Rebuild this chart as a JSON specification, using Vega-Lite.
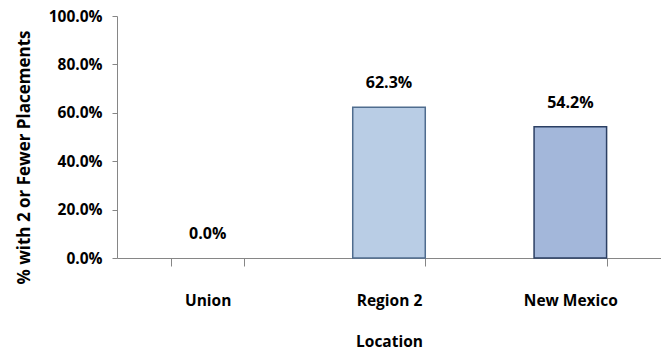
{
  "$schema": "https://vega.github.io/schema/vega-lite/v6.json",
  "width": 544,
  "height": 242,
  "autosize": {"type": "none"},
  "padding": {"left": 117, "top": 16, "right": 0, "bottom": 98},
  "background": "white",
  "config": {
    "view": {"stroke": null},
    "font": "Open Sans",
    "axis": {"grid": false, "labelFont": "Open Sans", "titleFont": "Open Sans", "labelFontWeight": "bold", "titleFontWeight": "bold", "labelColor": "#000000", "titleColor": "#000000", "domainColor": "#868686", "tickColor": "#868686"}
  },
  "data": {
    "values": [
      {"location": "Union", "value": 0.0},
      {"location": "Region 2", "value": 0.623},
      {"location": "New Mexico", "value": 0.542}
    ]
  },
  "encoding": {
    "x": {
      "field": "location",
      "type": "nominal",
      "sort": null,
      "scale": {"paddingInner": 0.6, "paddingOuter": 0.3},
      "axis": {"title": "Location", "labelAngle": 0, "labelFontSize": 15.5, "titleFontSize": 15.5, "tickBand": "extent", "tickSize": 8, "labelPadding": 27, "titlePadding": 26}
    },
    "y": {
      "field": "value",
      "type": "quantitative",
      "scale": {"domain": [0, 1]},
      "axis": {"title": "% with 2 or Fewer Placements", "format": ".1%", "values": [0, 0.2, 0.4, 0.6, 0.8, 1.0], "labelFontSize": 15.5, "titleFontSize": 17, "tickSize": 5, "labelPadding": 10, "titlePadding": 15, "titleY": 141}
    }
  },
  "layer": [
    {
      "mark": {"type": "bar", "strokeWidth": 1.5},
      "encoding": {
        "fill": {"field": "location", "type": "nominal", "legend": null, "scale": {"domain": ["Union", "Region 2", "New Mexico"], "range": ["#B9CDE5", "#B9CDE5", "#A3B7DA"]}},
        "stroke": {"field": "location", "type": "nominal", "legend": null, "scale": {"domain": ["Union", "Region 2", "New Mexico"], "range": ["#4F6C8E", "#4F6C8E", "#2B3F63"]}},
        "strokeOpacity": {"condition": {"test": "datum.value > 0", "value": 1}, "value": 0}
      }
    },
    {
      "mark": {"type": "text", "dy": -24, "fontSize": 16, "fontWeight": "bold", "font": "Open Sans", "color": "#000000"},
      "encoding": {"text": {"field": "value", "type": "quantitative", "format": ".1%"}}
    }
  ]
}
